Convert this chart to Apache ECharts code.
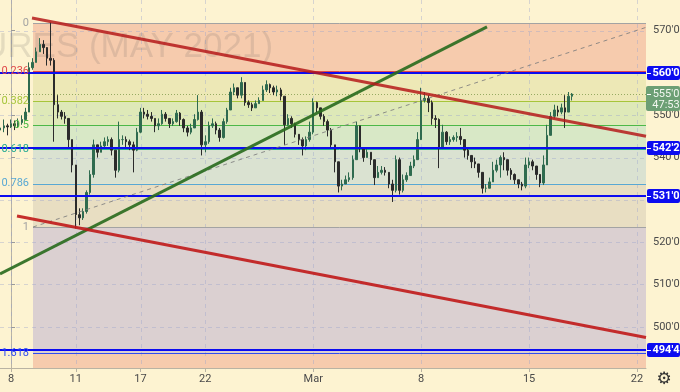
<!DOCTYPE html>
<html><head><meta charset="utf-8">
<script src="https://cdn.jsdelivr.net/npm/echarts@6/dist/echarts.min.js"></script>
<style>html,body{margin:0;padding:0;background:#fdf3d1;}#c{width:680px;height:392px;}</style>
</head><body><div id="c"></div>
<script>
// ---- data (wheat futures May 2021, 4h-ish bars, price in cents) ----
const firstBarDay = -0.5;     // trading-day index of first bar (Feb 8 = 0)
const barsPerDay = 6;
const opens = [546.5,547,547.5,547.25,548,547.5,548.25,549,550.75,561.25,
562.5,565,566.75,566,563.5,563,552.5,550.75,549.75,549.25,
544.25,538.25,526.5,525.75,527.25,531.75,536,543,541.25,542.75,
543.75,544.25,541.75,537,544.25,544.25,543.75,543,541.75,546,
550.75,550.25,549.75,549.25,547.5,548,550.25,549.25,548,548.5,
550.5,549,547,546,547,549,550.75,543,543.75,547.5,
548,546.5,544.75,548.5,551.25,555.5,556.5,554.75,557.75,553,
552.5,551.75,552.75,553.5,556,557.25,556.5,555.5,556,554.5,
547.75,549.25,548,545.5,544.25,542.75,544.25,546,553,551.75,
549.75,548.5,546.5,543,539,533.25,533.75,534.75,535.25,539.5,
547.5,542.25,540,541.25,539.5,535.25,536.5,537,536.5,533.75,
532.25,539.5,532.25,534.75,535.75,538,539.5,544.25,553.5,554,
553,549.25,549,542.25,546,543.75,544.25,544.75,545,544.25,
541.75,540.5,539,538.5,536.5,532.75,532.75,534.25,537,538.25,
540,539.5,537,536,534.75,533.75,533.25,538.25,539,538,
536,534,538.25,545.25,549.75,551.25,550.75,551.75,550.75,554.5];
const closes = [547,547.5,547.25,548,547.5,548.25,549,550.75,561.25,562.5,
565,566.75,566,563.5,563,552.5,550.75,549.75,549.25,544.25,
538.25,526.5,525.75,527.25,531.75,536,543,541.25,542.75,543.75,
544.25,541.75,537,544.25,544.25,543.75,543,541.75,546,550.75,
550.25,549.75,549.25,547.5,548,550.25,549.25,548,548.5,550.5,
549,547,546,547,549,550.75,543,543.75,547.5,548,
546.5,544.75,548.5,551.25,555.5,556.5,554.75,557.75,553,552.5,
551.75,552.75,553.5,556,557.25,556.5,555.5,556,554.5,547.75,
549.25,548,545.5,544.25,542.75,544.25,546,553,551.75,549.75,
548.5,546.5,543,539,533.25,533.75,534.75,535.25,539.5,547.5,
542.25,540,541.25,539.5,535.25,536.5,537,536.5,533.75,532.25,
539.5,532.25,534.75,535.75,538,539.5,544.25,553.5,554,553,
549.25,549,542.25,546,543.75,544.25,544.75,545,544.25,541.75,
540.5,539,538.5,536.5,532.75,532.75,534.25,537,538.25,540,
539.5,537,536,534.75,533.75,533.25,538.25,539,538,536,
534,538.25,545.25,549.75,551.25,550.75,551.75,550.75,554.5,555];
const highs = [548.5,549,548,549,548.75,549.25,550,551.75,562.5,563.5,
566,568.25,567.75,565.5,572,563.5,554.75,551.25,550.75,549.25,
544.25,538.25,528,528,532.25,537,544.25,543,543.75,544.75,
545,544.75,541.75,548.5,545.25,545,544.25,543.75,547,551.75,
551.75,551.25,550.75,549.25,549.25,551.25,550.75,549.25,549.25,551.25,
550.75,549.25,547.5,548,550.25,554.75,551.25,545.25,548.5,549.25,
548.5,547,549.25,551.75,556.5,557.5,556.5,559,557.75,553.5,
553,553.5,554.25,557,558.25,557.5,557,557,556.5,554.5,
550.25,549.75,548.25,545.5,544.75,545,548.5,554,553.25,551.75,
550.25,549,547,543,539,534.75,535.75,536.5,540.5,548.5,
547.5,542.25,542.25,541.25,539.5,538,538,537.75,536.5,534.75,
540.5,540,536,536.5,539,540.5,546,556.5,555.5,554.75,
553.5,550,549.25,547.75,546.25,545,545.25,546,547,544.25,
542.25,540.5,540,538.5,536.5,533.75,535.25,539,539.5,540.5,
541.25,539.5,537.5,536.25,534.75,534.25,540,540,539.5,538,
535.75,540.5,547.75,550.75,552.5,552.25,552.75,554.75,555.5,555.25];
const lows = [546,546,545.25,547,546.5,547,547.75,549,550.75,560.75,
562.5,565,564.5,561.75,561.75,543.75,549.25,549,548,542.25,
536.5,523.25,524,525.25,526.75,531.25,535.25,540,541.25,542.25,
542.75,540.5,535.25,536.5,543,542.5,541.75,536.5,541.5,545.75,
549.25,549,548.5,546,546.5,547.75,548.5,547,547.5,548.25,
547.5,546,545,545.5,547,548.75,540.5,541.25,543.25,547,
545.5,543.75,544.5,548,551.25,554.75,554,554,552.25,551.75,
551,551.75,552.75,553.5,555.5,555.25,554.75,554.5,553.5,543,
547.5,547,544.75,543,540.5,541.75,543.75,545.5,550.75,549,
547.5,545,542.25,536.5,531.75,532.25,533.75,534.25,534.75,539.5,
541.25,539,540,538.25,533.5,535.25,536,535.75,532.75,529.5,
531.75,531.25,531.75,534.25,535.75,537.5,539.5,545.25,553,550.75,
547.75,547,537.5,542,543,543,543.75,543.75,543,540,
539.5,537.5,537.5,535.25,531.5,531.75,532.75,534.25,536.5,535.25,
537,535.75,534.75,533.75,532.75,532.25,532.75,537.5,537,534.75,
533,533.5,538.25,545.25,549.25,549.75,550.25,547,550.75,553.5];

const xTickDays = [0, 3, 6, 9, 14, 19, 24, 29];
const xTickLabels = ['8', '11', '17', '22', 'Mar', '8', '15', '22'];
const yTickValues = [500, 510, 520, 540, 550, 570];
const yGridValues = [500, 510, 520, 530, 540, 550, 560, 570];

const fibLevels = [0, 0.236, 0.382, 0.5, 0.618, 0.786, 1, 1.618];
const fibLabels = ['0', '0.236', '0.382', '0.5', '0.618', '0.786', '1', '1.618'];
const fibHigh = 571.75, fibLow = 523.5, fibStartDay = 1.02;

const keyLevels = [560, 542.25, 531, 494.5];
const keyLabels = ["560'0", "542'2", "531'0", "494'4"];
const lastPrice = 555, lastPriceLabel = "555'0", countdownLabel = "47:53";

const redTopLine = [[0.973, 573.0], [29.417, 545.06]];
const redBottomLine = [[0.278, 526.19], [29.417, 497.46]];
const greenLine = [[-0.5096, 512.47], [22.05, 570.88]];
const fibTrendLine = [[1.02, 523.58], [29.417, 570.78]];

// ---- styles ----
const X_MIN = -0.5096, X_MAX = 29.417, Y_MIN = 490.25, Y_MAX = 577.25;
const BG = '#fdf3d1';
const zoneColors = ['#f5c7a8', '#ebe7b3', '#dae8b5', '#d4e7c4', '#d6e0d0', '#e6dbc0', '#d7ccd0', '#f5c7a8'];
const fibColors = ['#a3a3a3', '#e04848', '#a6c53a', '#4db848', '#22a892', '#58a8d4', '#a3a3a3', '#2f4cf0'];
const gridColor = 'rgba(150,160,205,0.38)';
const KEY_BLUE = '#0c0cf0';
const FONT = '11px Roboto, "Liberation Sans", sans-serif';

function fibPrice(lv) { return fibHigh - lv * (fibHigh - fibLow); }

const candleData = opens.map((o, j) => [firstBarDay + j / barsPerDay, o, closes[j], lows[j], highs[j]]);
const zoneData = fibLevels.map((lv, i) => [fibStartDay, fibPrice(lv), i < fibLevels.length - 1 ? fibPrice(fibLevels[i + 1]) : Y_MIN, i]);
const fibLineData = fibLevels.map((lv, i) => [fibStartDay, fibPrice(lv), i]);
const keyData = keyLevels.map((p, i) => [X_MAX, p, i]);

const chart = echarts.init(document.getElementById('c'), null, {renderer: 'canvas'});
const crisp = v => Math.round(v) + 0.5;

chart.setOption({
  animation: false,
  backgroundColor: BG,
  grid: {left: 0, right: 34, top: 0, bottom: 24, containLabel: false, outerBoundsMode: 'none'},
  xAxis: {
    type: 'value', min: X_MIN, max: X_MAX,
    axisLine: {show: true, lineStyle: {color: '#b9b3a3', width: 1}},
    axisTick: {show: true, customValues: xTickDays, length: 4, lineStyle: {color: '#b9b3a3'}},
    axisLabel: {customValues: xTickDays, formatter: v => xTickLabels[xTickDays.indexOf(v)], color: '#4a4a4a', fontSize: 11, margin: 6, fontFamily: 'Roboto, sans-serif'},
    splitLine: {show: false}
  },
  yAxis: {
    type: 'value', position: 'right', min: Y_MIN, max: Y_MAX, scale: true,
    axisLine: {show: true, lineStyle: {color: '#b9b3a3', width: 1}},
    axisTick: {show: true, customValues: yTickValues, length: 4, lineStyle: {color: '#9a9a9a'}},
    axisLabel: {customValues: yTickValues, formatter: v => v + "'0", color: '#4a4a4a', fontSize: 11, margin: 7, fontFamily: 'Roboto, sans-serif'},
    splitLine: {show: false}
  },
  graphic: [
    {type: 'text', z: 3, silent: true, style: {text: 'URES (MAY 2021)', x: -18, y: 47, font: '35px "Liberation Sans", Arial, sans-serif', fill: 'rgba(90,90,90,0.15)', textAlign: 'left', textVerticalAlign: 'middle', align: 'left', verticalAlign: 'middle'}},
    {type: 'text', z: 10, silent: true, style: {text: '\u2699', x: 664, y: 380, font: '17px "DejaVu Sans", sans-serif', fill: '#333', textAlign: 'center', textVerticalAlign: 'middle', align: 'center', verticalAlign: 'middle'}}
  ],
  series: [
    { // fib zones
      type: 'custom', z: 1, silent: true, data: zoneData,
      encode: {x: 0, y: 1},
      renderItem: (params, api) => {
        const a = api.coord([api.value(0), api.value(1)]);
        const b = api.coord([X_MAX, api.value(2)]);
        return {type: 'rect', shape: {x: Math.round(a[0]), y: a[1], width: b[0] - Math.round(a[0]), height: b[1] - a[1]},
          style: {fill: zoneColors[api.value(3)], opacity: 0.9}};
      }
    },
    { // vertical grid lines
      type: 'custom', z: 2, silent: true, data: xTickDays.map(d => [d, Y_MIN]),
      encode: {x: 0, y: 1},
      renderItem: (params, api) => {
        const b = api.coord([api.value(0), Y_MIN]);
        const t = api.coord([api.value(0), Y_MAX]);
        const x = crisp(b[0]);
        return {type: 'line', shape: {x1: x, y1: t[1], x2: x, y2: b[1]}, style: {stroke: gridColor, lineWidth: 1, lineDash: [4, 4]}};
      }
    },
    { // horizontal grid lines
      type: 'custom', z: 2, silent: true, data: yGridValues.map(v => [X_MIN, v]),
      encode: {x: 0, y: 1},
      renderItem: (params, api) => {
        const l = api.coord([X_MIN, api.value(1)]);
        const r = api.coord([X_MAX, api.value(1)]);
        const y = crisp(l[1]);
        return {type: 'line', shape: {x1: l[0], y1: y, x2: r[0], y2: y}, style: {stroke: gridColor, lineWidth: 1, lineDash: [4, 4]}};
      }
    },
    { // fib level lines
      type: 'custom', z: 4, silent: true, clip: false, data: fibLineData,
      encode: {x: 0, y: 1},
      renderItem: (params, api) => {
        const i = api.value(2);
        const l = api.coord([api.value(0), api.value(1)]);
        const r = api.coord([X_MAX, api.value(1)]);
        const y = crisp(l[1]);
        return {type: 'line', shape: {x1: Math.round(l[0]), y1: y, x2: r[0], y2: y}, style: {stroke: fibColors[i], lineWidth: 1}};
      }
    },
    { // candles
      type: 'candlestick', z: 5, silent: true, data: candleData,
      encode: {x: 0, y: [1, 2, 3, 4]},
      barWidth: 2,
      itemStyle: {color: '#2f6b4f', color0: '#2b2b2b', borderColor: '#2f6b4f', borderColor0: '#2b2b2b', borderWidth: 1}
    },
    { // last price dotted line
      type: 'custom', z: 5, silent: true, clip: false, data: [[X_MIN, lastPrice]],
      encode: {x: 0, y: 1},
      renderItem: (params, api) => {
        const l = api.coord([X_MIN, api.value(1)]);
        const r = api.coord([X_MAX, api.value(1)]);
        const y = crisp(l[1]);
        return {type: 'line', shape: {x1: l[0], y1: y, x2: r[0], y2: y}, style: {stroke: 'rgba(120,150,70,0.75)', lineWidth: 1, lineDash: [1, 2]}};
      }
    },
    { // key horizontal levels
      type: 'custom', z: 6, silent: true, clip: false, data: keyData,
      encode: {x: 0, y: 1},
      renderItem: (params, api) => {
        const r = api.coord([X_MAX, api.value(1)]);
        const l = api.coord([X_MIN, api.value(1)]);
        return {type: 'line', shape: {x1: l[0], y1: Math.round(r[1]), x2: r[0], y2: Math.round(r[1])}, style: {stroke: KEY_BLUE, lineWidth: 2}};
      }
    },
    {type: 'line', z: 7, silent: true, data: fibTrendLine, symbol: 'none', lineStyle: {color: 'rgba(125,125,125,0.85)', width: 1, type: [4, 4]}},
    {type: 'line', z: 7, silent: true, data: greenLine, symbol: 'none', lineStyle: {color: '#2b6c1f', width: 3, opacity: 0.92}},
    {type: 'line', z: 7, silent: true, data: redTopLine, symbol: 'none', lineStyle: {color: '#b51a1a', width: 3, opacity: 0.85}},
    {type: 'line', z: 7, silent: true, data: redBottomLine, symbol: 'none', lineStyle: {color: '#c01818', width: 3, opacity: 0.9}},
    { // fib level labels (on top)
      type: 'custom', z: 9, silent: true, clip: false, data: fibLineData,
      encode: {x: 0, y: 1},
      renderItem: (params, api) => {
        const i = api.value(2);
        const l = api.coord([api.value(0), api.value(1)]);
        return {type: 'text', style: {text: fibLabels[i], x: l[0] - 4, y: l[1], fill: fibColors[i], font: FONT, align: 'right', verticalAlign: 'middle'}};
      }
    },
    { // right-side tags for key levels
      type: 'custom', z: 8, silent: true, clip: false, data: keyData,
      encode: {x: 0, y: 1},
      renderItem: (params, api) => {
        const p = api.coord([X_MAX, api.value(1)]);
        const x0 = Math.round(p[0]) + 1, y = Math.round(p[1]);
        return {type: 'group', children: [
          {type: 'rect', shape: {x: x0, y: y - 7, width: 680 - x0, height: 14, r: 2}, style: {fill: KEY_BLUE}},
          {type: 'line', shape: {x1: x0, y1: y + 0.5, x2: x0 + 4, y2: y + 0.5}, style: {stroke: '#ffffff', lineWidth: 1}},
          {type: 'text', style: {text: keyLabels[api.value(2)], x: x0 + 19, y: y + 0.5, fill: '#ffffff', font: 'bold 11px Roboto, sans-serif', align: 'center', verticalAlign: 'middle'}}
        ]};
      }
    },
    { // last price tag
      type: 'custom', z: 8, silent: true, clip: false, data: [[X_MAX, lastPrice]],
      encode: {x: 0, y: 1},
      renderItem: (params, api) => {
        const p = api.coord([X_MAX, api.value(1)]);
        const x0 = Math.round(p[0]), y = Math.round(p[1]);
        return {type: 'group', children: [
          {type: 'rect', shape: {x: x0, y: y - 8, width: 680 - x0, height: 25, r: 2}, style: {fill: '#6c9f74'}},
          {type: 'line', shape: {x1: x0 + 1, y1: y + 0.5, x2: x0 + 5, y2: y + 0.5}, style: {stroke: '#ffffff', lineWidth: 1}},
          {type: 'text', style: {text: lastPriceLabel, x: x0 + 20, y: y + 0.5, fill: '#f2f7f0', font: FONT, align: 'center', verticalAlign: 'middle'}},
          {type: 'text', style: {text: countdownLabel, x: x0 + 20, y: y + 11.5, fill: '#f2f7f0', font: FONT, align: 'center', verticalAlign: 'middle'}}
        ]};
      }
    }
  ]
});
</script>
</body></html>
